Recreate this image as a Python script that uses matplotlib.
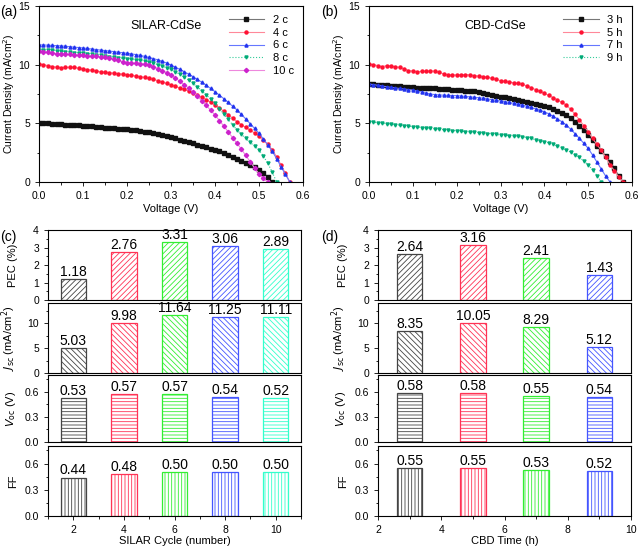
import numpy as np
import matplotlib
matplotlib.use("Agg")
import matplotlib.pyplot as plt
from matplotlib.ticker import MultipleLocator, FormatStrFormatter

plt.rcParams['font.family'] = ['Liberation Sans', 'DejaVu Sans']
plt.rcParams['hatch.linewidth'] = 0.6
plt.rcParams['axes.linewidth'] = 0.8

# ---- J-V curves, sampled every 0.01 V starting at 0 V ----
v_step = 0.01

silar_labels = ['2 c', '4 c', '6 c', '8 c', '10 c']
j_2c = [5.03, 5.01, 4.99, 4.97, 4.94, 4.92, 4.90, 4.88, 4.85, 4.83, 4.80, 4.77, 4.74, 4.71, 4.67,
        4.64, 4.61, 4.58, 4.55, 4.52, 4.49, 4.45, 4.40, 4.35, 4.30, 4.24, 4.17, 4.08, 4.00, 3.91,
        3.82, 3.72, 3.62, 3.51, 3.41, 3.30, 3.19, 3.08, 2.96, 2.85, 2.73, 2.60, 2.46, 2.31, 2.16,
        2.00, 1.83, 1.64, 1.45, 1.24, 1.02, 0.76, 0.45, 0.00]
j_4c = [10.06, 10.00, 9.92, 9.84, 9.78, 9.75, 9.76, 9.78, 9.76, 9.70, 9.63, 9.58, 9.52, 9.46, 9.40,
        9.35, 9.31, 9.27, 9.23, 9.19, 9.15, 9.09, 9.03, 8.97, 8.91, 8.84, 8.75, 8.64, 8.52, 8.40,
        8.27, 8.15, 8.02, 7.89, 7.75, 7.60, 7.43, 7.24, 7.03, 6.80, 6.56, 6.30, 6.03, 5.74, 5.44,
        5.14, 4.89, 4.65, 4.41, 4.17, 3.92, 3.57, 3.20, 2.75, 2.15, 1.45, 0.75, 0.00]
j_6c = [11.68, 11.68, 11.66, 11.64, 11.62, 11.60, 11.57, 11.53, 11.49, 11.46, 11.42, 11.38, 11.33,
        11.29, 11.24, 11.20, 11.16, 11.11, 11.06, 11.02, 10.97, 10.92, 10.86, 10.79, 10.71, 10.62,
        10.52, 10.41, 10.29, 10.14, 9.97, 9.79, 9.60, 9.40, 9.19, 8.98, 8.74, 8.50, 8.24, 7.97,
        7.70, 7.40, 7.10, 6.78, 6.46, 6.14, 5.76, 5.37, 4.97, 4.56, 4.15, 3.66, 3.16, 2.62, 2.00,
        1.30, 0.65, 0.00]
j_8c = [11.25, 11.25, 11.24, 11.22, 11.19, 11.15, 11.10, 11.06, 11.03, 11.00, 10.97, 10.93, 10.88,
        10.83, 10.79, 10.74, 10.69, 10.64, 10.59, 10.54, 10.49, 10.45, 10.41, 10.37, 10.32, 10.24,
        10.13, 10.01, 9.88, 9.75, 9.60, 9.40, 9.18, 8.94, 8.68, 8.41, 8.10, 7.77, 7.43, 7.07, 6.70,
        6.25, 5.79, 5.33, 4.88, 4.43, 4.06, 3.71, 3.38, 3.05, 2.73, 2.20, 1.59, 0.85, 0.00]
j_10c = [11.17, 11.12, 11.06, 11.00, 10.94, 10.90, 10.88, 10.87, 10.85, 10.82, 10.80, 10.76, 10.73,
         10.70, 10.66, 10.63, 10.55, 10.46, 10.36, 10.26, 10.17, 10.13, 10.10, 10.07, 10.04, 9.98,
         9.84, 9.67, 9.50, 9.32, 9.12, 8.86, 8.58, 8.30, 8.00, 7.70, 7.32, 6.93, 6.53, 6.12, 5.71,
         5.24, 4.76, 4.27, 3.78, 3.30, 2.79, 2.26, 1.73, 1.19, 0.70, 0.30, 0.00]

cbd_labels = ['3 h', '5 h', '7 h', '9 h']
j_3h = [8.35, 8.33, 8.30, 8.26, 8.24, 8.22, 8.19, 8.16, 8.13, 8.10, 8.07, 8.05, 8.03, 8.01, 7.99,
        7.98, 7.95, 7.92, 7.89, 7.87, 7.84, 7.81, 7.78, 7.76, 7.73, 7.70, 7.62, 7.53, 7.45, 7.36,
        7.28, 7.21, 7.14, 7.07, 7.00, 6.93, 6.84, 6.75, 6.66, 6.57, 6.48, 6.36, 6.23, 6.08, 5.91,
        5.71, 5.43, 5.11, 4.77, 4.40, 4.01, 3.56, 3.11, 2.65, 2.20, 1.73, 1.20, 0.50, 0.00]
j_5h = [10.05, 10.00, 9.92, 9.83, 9.92, 9.88, 9.82, 9.77, 9.64, 9.50, 9.45, 9.41, 9.42, 9.44, 9.46,
        9.45, 9.35, 9.22, 9.14, 9.12, 9.12, 9.14, 9.16, 9.13, 9.07, 9.03, 8.99, 8.93, 8.84, 8.74,
        8.64, 8.58, 8.52, 8.46, 8.40, 8.33, 8.19, 8.04, 7.88, 7.72, 7.56, 7.38, 7.19, 6.99, 6.78,
        6.56, 6.20, 5.78, 5.30, 4.80, 4.29, 3.73, 3.20, 2.70, 2.10, 1.45, 0.95, 0.40, 0.00]
j_7h = [8.35, 8.30, 8.24, 8.18, 8.12, 8.07, 8.02, 7.97, 7.93, 7.88, 7.84, 7.76, 7.67, 7.58, 7.50,
        7.45, 7.42, 7.40, 7.38, 7.37, 7.36, 7.33, 7.29, 7.26, 7.22, 7.19, 7.14, 7.08, 7.02, 6.96,
        6.91, 6.85, 6.78, 6.71, 6.64, 6.56, 6.46, 6.35, 6.24, 6.12, 5.99, 5.81, 5.61, 5.38, 5.13,
        4.86, 4.50, 4.12, 3.72, 3.30, 2.87, 2.30, 1.70, 1.10, 0.50, 0.00]
j_9h = [5.12, 5.08, 5.05, 5.01, 4.96, 4.92, 4.88, 4.84, 4.80, 4.76, 4.72, 4.68, 4.64, 4.60, 4.56,
        4.52, 4.48, 4.45, 4.41, 4.38, 4.35, 4.32, 4.29, 4.26, 4.24, 4.21, 4.17, 4.13, 4.09, 4.05,
        4.01, 3.98, 3.95, 3.92, 3.89, 3.86, 3.79, 3.71, 3.62, 3.53, 3.44, 3.33, 3.20, 3.06, 2.90,
        2.73, 2.54, 2.33, 2.09, 1.80, 1.45, 1.05, 0.55, 0.00]

# ---- bar data ----
silar_x = [2, 4, 6, 8, 10]
silar_pec = [1.18, 2.76, 3.31, 3.06, 2.89]
silar_jsc = [5.03, 9.98, 11.64, 11.25, 11.11]
silar_voc = [0.53, 0.57, 0.57, 0.54, 0.52]
silar_ff = [0.44, 0.48, 0.50, 0.50, 0.50]

cbd_x = [3, 5, 7, 9]
cbd_pec = [2.64, 3.16, 2.41, 1.43]
cbd_jsc = [8.35, 10.05, 9.30, 5.12]          # bar heights as drawn
cbd_jsc_text = ['8.35', '10.05', '8.29', '5.12']  # printed values
cbd_voc = [0.58, 0.58, 0.55, 0.54]
cbd_ff = [0.55, 0.55, 0.53, 0.52]

bar_colors = ['#444444', '#ff3355', '#33ee33', '#4455ff', '#33ffcc']
line_colors = ['#777777', '#ff8899', '#6677ff', '#33cc99', '#ee88dd']
mark_colors = ['#111111', '#ff1133', '#2233ee', '#00aa77', '#cc22cc']
markers = ['s', 'o', '^', 'v', 'D']
styles = ['-', '-', '-', ':', '-']

W, H = 641, 549
fig = plt.figure(figsize=(W / 100, H / 100), dpi=100)


def box(l, t, r, b):
    return [l / W, 1 - b / H, (r - l) / W, (b - t) / H]


def style_ticks(ax):
    ax.tick_params(which='both', direction='out', top=False, right=False, labelsize=7.5, width=0.6)
    ax.tick_params(which='major', length=3)
    ax.tick_params(which='minor', length=1.8)


def jv_panel(rect, curves, labels, title):
    ax = fig.add_axes(rect)
    for i, (j, lab) in enumerate(zip(curves, labels)):
        v = np.arange(len(j)) * v_step
        ax.plot(v, j, linestyle=styles[i], color=line_colors[i], lw=0.8,
                marker=markers[i], ms=2.2, mfc=mark_colors[i], mec=mark_colors[i], label=lab)
    ax.set_xlim(0, 0.6)
    ax.set_ylim(0, 15)
    ax.xaxis.set_major_locator(MultipleLocator(0.1))
    ax.xaxis.set_minor_locator(MultipleLocator(0.05))
    ax.xaxis.set_major_formatter(FormatStrFormatter('%.1f'))
    ax.yaxis.set_major_locator(MultipleLocator(5))
    ax.yaxis.set_minor_locator(MultipleLocator(2.5))
    style_ticks(ax)
    ax.set_xlabel('Voltage (V)', fontsize=8, labelpad=2)
    ax.set_ylabel('Current Density (mA/cm$^2$)', fontsize=7.5)
    ax.yaxis.set_label_coords(-0.082, 0.5)
    ax.text(0.48, 0.885, title, transform=ax.transAxes, ha='center', va='center', fontsize=9)
    ax.legend(loc='upper right', frameon=False, fontsize=8, handlelength=3.2,
              labelspacing=0.25, borderaxespad=0.4, handletextpad=0.8)
    return ax


jv_panel(box(39, 6, 303, 182), [j_2c, j_4c, j_6c, j_8c, j_10c], silar_labels, 'SILAR-CdSe')
jv_panel(box(369, 6, 632, 182), [j_3h, j_5h, j_7h, j_9h], cbd_labels, 'CBD-CdSe')

fig.text(0 / W, 1 - 12 / H, '(a)', fontsize=10, va='center')
fig.text(321 / W, 1 - 12 / H, '(b)', fontsize=10, va='center')
fig.text(0 / W, 1 - 237 / H, '(c)', fontsize=10, va='center')
fig.text(321 / W, 1 - 237 / H, '(d)', fontsize=10, va='center')

rows = [
    ('PEC (%)', 4, 1, 0.5, '%d', '//////', 230, 300),
    ('$J_{\\rm sc}$ (mA/cm$^2$)', 14, 5, 2.5, '%d', '\\\\\\\\\\\\', 303, 373),
    ('$V_{\\rm oc}$ (V)', 0.8, 0.3, 0.15, '%.1f', '-----', 375, 442),
    ('FF', 0.8, 0.3, 0.15, '%.1f', '|||||', 446, 516),
]


def bar_column(left, right, xs, values, texts, xlim, xlabel):
    for r, (ylab, ytop, maj, mnr, fmt, hatch, t, b) in enumerate(rows):
        ax = fig.add_axes(box(left, t, right, b))
        vals = values[r]
        ax.bar(xs, vals, width=0.8 if len(xs) == 4 else 1.0, color='white',
               edgecolor=bar_colors[:len(xs)], hatch=hatch, linewidth=0.9)
        for x, v, s in zip(xs, vals, texts[r]):
            ax.text(x, v, s, ha='center', va='bottom', fontsize=10)
        ax.set_xlim(*xlim)
        ax.set_ylim(0, ytop)
        ax.yaxis.set_major_locator(MultipleLocator(maj))
        ax.yaxis.set_minor_locator(MultipleLocator(mnr))
        ax.yaxis.set_major_formatter(FormatStrFormatter(fmt))
        ax.xaxis.set_major_locator(MultipleLocator(2))
        ax.xaxis.set_minor_locator(MultipleLocator(1))
        style_ticks(ax)
        ax.set_ylabel(ylab, fontsize=8)
        ax.yaxis.set_label_coords(-0.12, 0.5)
        if r < 3:
            ax.tick_params(axis='x', which='both', bottom=False, labelbottom=False)
        else:
            ax.set_xlabel(xlabel, fontsize=8, labelpad=1)


bar_column(48, 301, silar_x,
           [silar_pec, silar_jsc, silar_voc, silar_ff],
           [['%.2f' % v for v in silar_pec], ['%.2f' % v for v in silar_jsc],
            ['%.2f' % v for v in silar_voc], ['%.2f' % v for v in silar_ff]],
           (1, 11), 'SILAR Cycle (number)')
bar_column(378, 631, cbd_x,
           [cbd_pec, cbd_jsc, cbd_voc, cbd_ff],
           [['%.2f' % v for v in cbd_pec], cbd_jsc_text,
            ['%.2f' % v for v in cbd_voc], ['%.2f' % v for v in cbd_ff]],
           (2, 10), 'CBD Time (h)')

fig.savefig('out.png', dpi=100)
